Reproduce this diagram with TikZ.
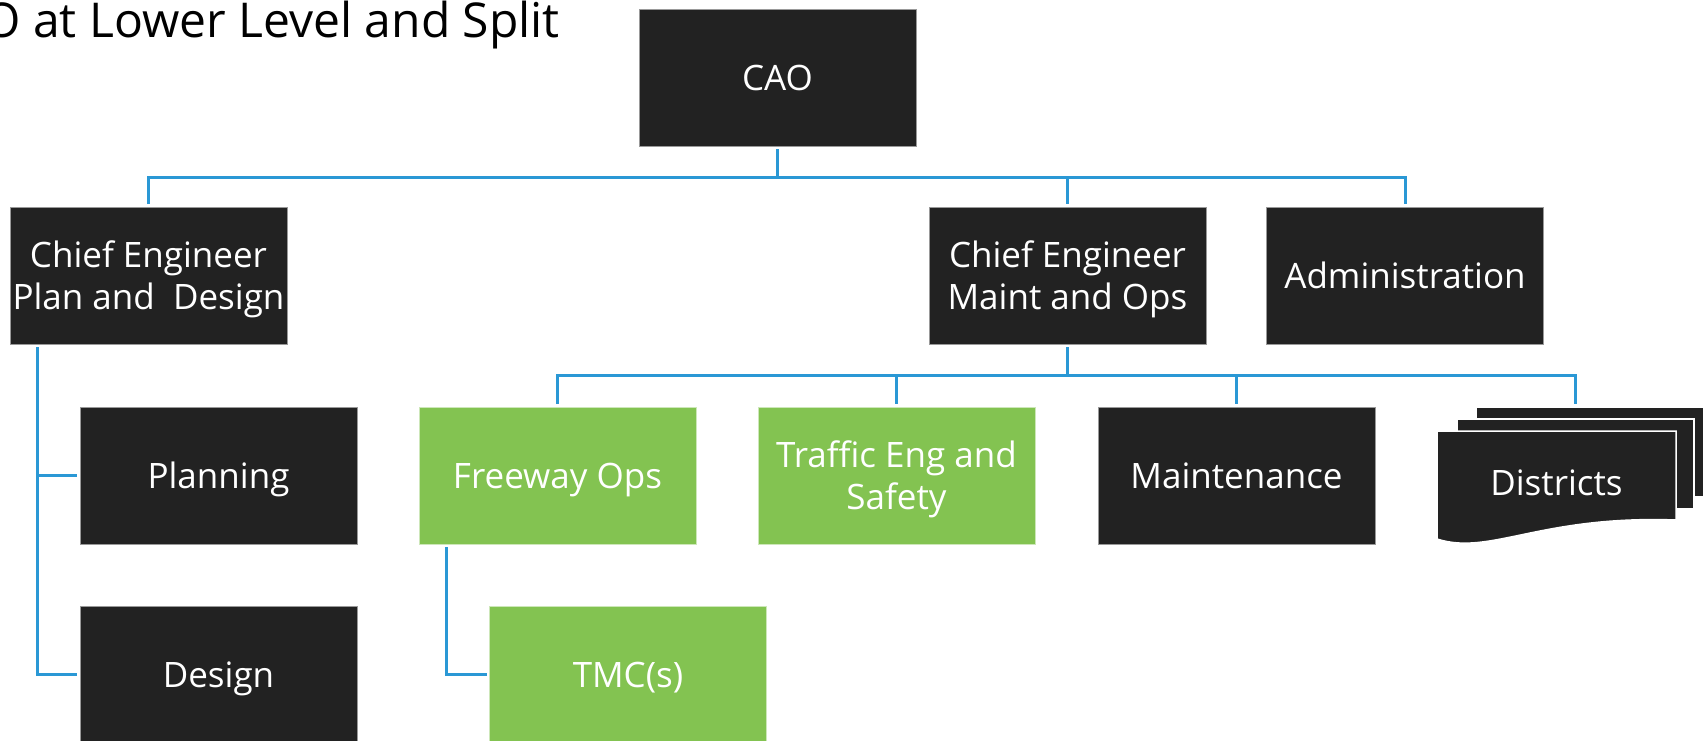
\documentclass[tikz,border=0pt]{standalone}
\usepackage{fontspec}
\setmainfont{Open Sans}
\definecolor{boxdark}{RGB}{34,34,34}
\definecolor{boxgreen}{RGB}{131,195,81}
\definecolor{linkblue}{RGB}{42,152,213}
\begin{document}
\begin{tikzpicture}[x=1pt,y=-1pt,
  orgbox/.style={rectangle, minimum width=277pt, minimum height=137pt, inner sep=2pt, outer sep=3pt, text=white, align=center, font=\fontsize{35}{42}\selectfont, text depth=0pt},
  darkbox/.style={orgbox, fill=boxdark, draw=gray!80, line width=0.8pt},
  greenbox/.style={orgbox, fill=boxgreen, draw=white!60!boxgreen, line width=0.8pt},
  conn/.style={draw=linkblue, line width=3pt, line join=miter},
  layer/.style={fill=boxdark, draw=white, line width=1.5pt}]
\useasboundingbox (0,0) rectangle (1703,740);

\node[anchor=base west, inner sep=0pt, font=\fontsize{48}{57}\selectfont] (title) at (-17,37) {O at Lower Level and Split};

\node[darkbox] (cao) at (777.5,77.5) {CAO};
\node[darkbox] (cepd) at (148.5,275.5) {Chief Engineer\\Plan and\ \ Design};
\node[darkbox] (cemo) at (1067.5,275.5) {Chief Engineer\\Maint and Ops};
\node[darkbox] (admin) at (1405,275.5) {Administration};
\node[darkbox] (planning) at (218.5,475.5) {Planning};
\node[darkbox] (design) at (218.5,674.5) {Design};
\node[greenbox] (fwy) at (557.5,475.5) {Freeway Ops};
\node[greenbox] (traffic) at (896.5,475.5) {Traffic Eng and\\Safety};
\node[darkbox] (maint) at (1236.5,475.5) {Maintenance};
\node[greenbox] (tmc) at (628,674.5) {TMC(s)};

\node[minimum width=277pt, minimum height=137pt, inner sep=0pt, outer sep=3pt] (districts) at (1575.5,475.5) {};
\path[layer] (1476,407) rectangle (1714,497);
\path[layer] (1457,419) rectangle (1694,509);
\path[layer] (1437,431) -- (1676,431) -- (1676,520) .. controls (1540,515) and (1490,556) .. (1437,539) -- cycle;
\node[text=white, font=\fontsize{35}{42}\selectfont, anchor=base, inner sep=0pt] (districtslabel) at (1556.5,495) {Districts};

\coordinate (bus1) at (777.5,177);
\draw[conn] (cao.south) -- (bus1);
\draw[conn] (cepd.north) |- (bus1) -| (admin.north);
\draw[conn] (bus1) -| (cemo.north);
\coordinate (bus2) at (1067.5,375);
\draw[conn] (cemo.south) -- (bus2);
\draw[conn] (fwy.north) |- (bus2) -| (districts.north);
\draw[conn] (bus2) -| (traffic.north);
\draw[conn] (bus2) -| (maint.north);
\draw[conn] ([xshift=30pt]cepd.south west) |- (planning.west);
\draw[conn] ([xshift=30pt]cepd.south west) |- (design.west);
\draw[conn] ([xshift=30pt]fwy.south west) |- (tmc.west);
\end{tikzpicture}
\end{document}
